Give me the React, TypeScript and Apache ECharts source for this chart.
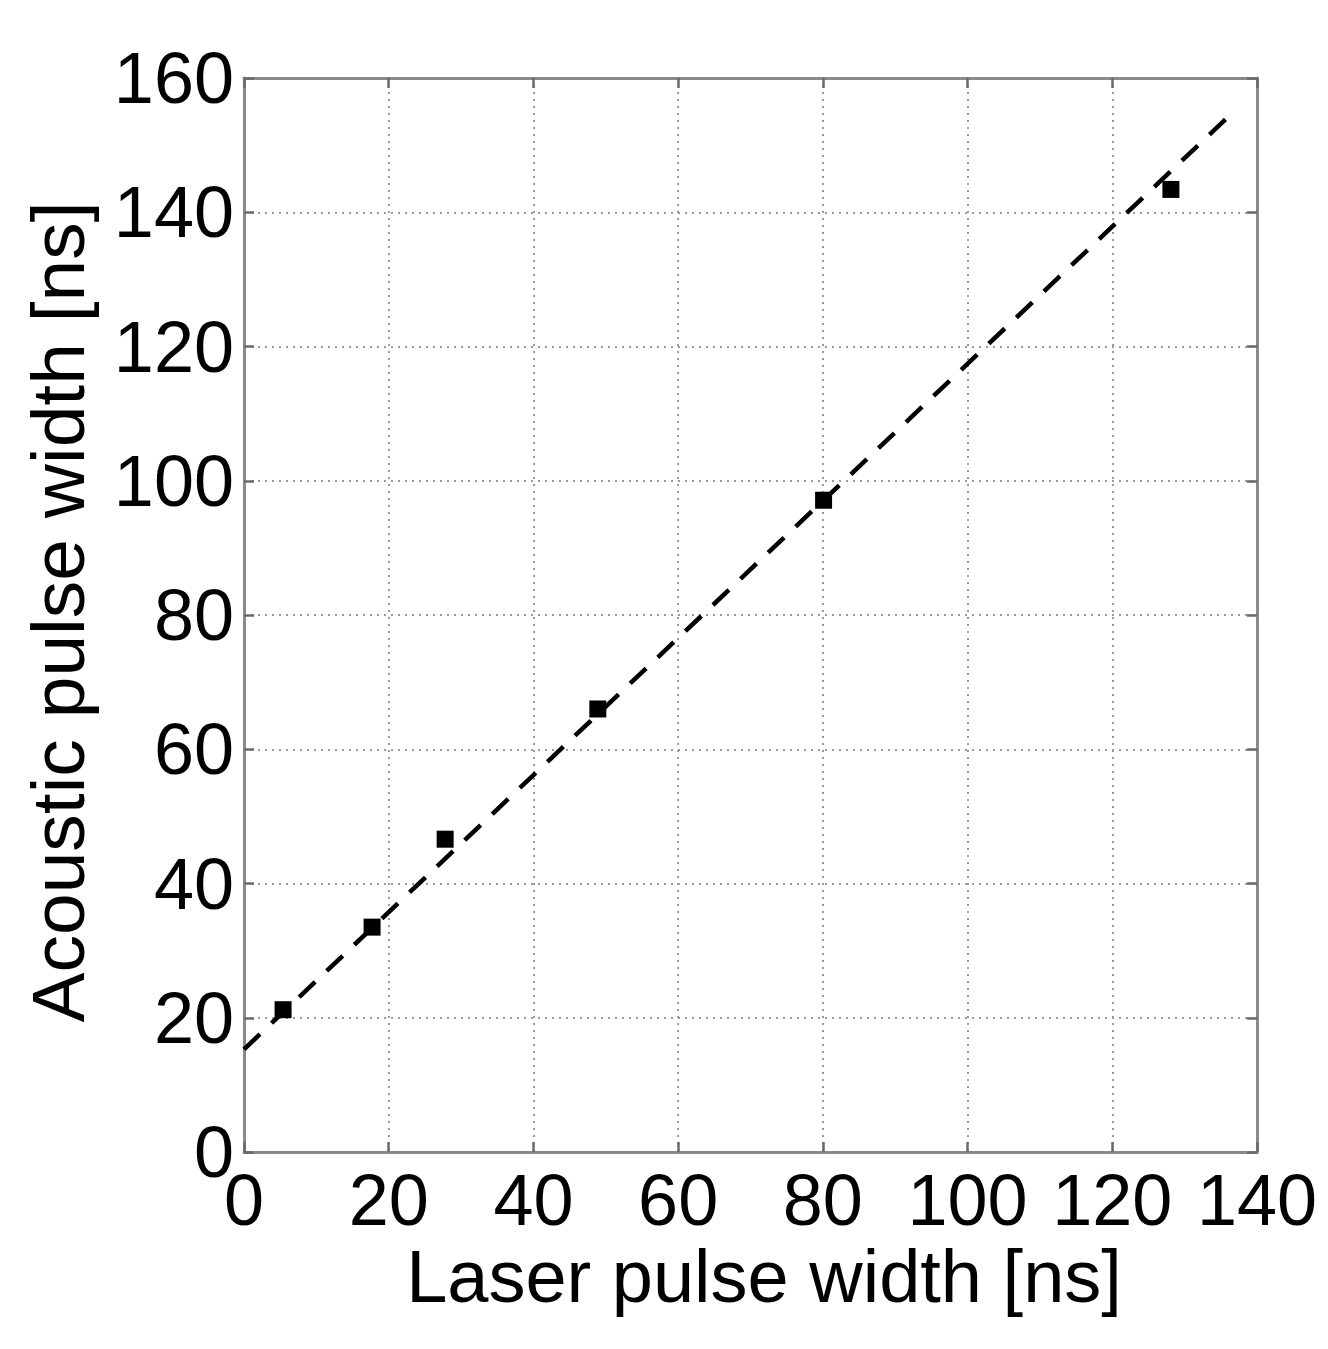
import React, { useEffect, useRef } from "react";
import * as echarts from "echarts";

const laserWidth = [5.4, 17.7, 27.8, 48.9, 80.1, 128.1];
const acousticWidth = [21.2, 33.5, 46.6, 66.0, 97.1, 143.4];
const fitX = [0, 136.1];
const fitY = [15.3, 154.3];
const xTitle = "Laser pulse width [ns]";
const yTitle = "Acoustic pulse width [ns]";

const FONT = "'Liberation Sans', Arial, Helvetica, sans-serif";

export default function App() {
  const ref = useRef<HTMLDivElement>(null);
  useEffect(() => {
    if (!ref.current) return;
    const chart = echarts.init(ref.current, null, { renderer: "svg" });
    const axisLine = { show: true, onZero: false, lineStyle: { color: "#8a8a8a", width: 3 } };
    const tick = { show: true, inside: true, length: 10, lineStyle: { color: "#6a6a6a", width: 2.5 } };
    const split = { show: true, lineStyle: { color: "#9a9a9a", width: 2, type: [2, 5] as any } };
    const label = { color: "#000", fontSize: 72, fontFamily: FONT };
    chart.setOption({
      animation: false,
      backgroundColor: "#fff",
      grid: { left: 244, right: 71, top: 78, bottom: 197, containLabel: false },
      xAxis: [
        {
          type: "value", min: 0, max: 140, interval: 20, position: "bottom",
          axisLine, axisTick: tick, splitLine: split,
          axisLabel: { ...label, margin: 12 },
        },
        {
          type: "value", min: 0, max: 140, interval: 20, position: "top",
          axisLine, axisTick: tick, splitLine: { show: false }, axisLabel: { show: false },
        },
      ],
      yAxis: [
        {
          type: "value", min: 0, max: 160, interval: 20, position: "left",
          axisLine, axisTick: tick, splitLine: split,
          axisLabel: { ...label, margin: 10 },
        },
        {
          type: "value", min: 0, max: 160, interval: 20, position: "right",
          axisLine, axisTick: tick, splitLine: { show: false }, axisLabel: { show: false },
        },
      ],
      graphic: [
        {
          type: "text", x: 764, y: 1276,
          style: { text: xTitle, fill: "#000", font: `74px ${FONT}`, textAlign: "center", textVerticalAlign: "middle" },
        },
        {
          type: "text", x: 58, y: 612, rotation: Math.PI / 2,
          style: { text: yTitle, fill: "#000", font: `75px ${FONT}`, textAlign: "center", textVerticalAlign: "middle" },
        },
      ],
      series: [
        {
          type: "line",
          data: fitX.map((x, i) => [x, fitY[i]]),
          showSymbol: false,
          symbol: "none",
          lineStyle: { color: "#000", width: 4.5, type: [22, 16] as any },
          z: 3,
        },
        {
          type: "scatter",
          data: laserWidth.map((x, i) => [x, acousticWidth[i]]),
          symbol: "rect",
          symbolSize: 17,
          itemStyle: { color: "#000", opacity: 1 },
          z: 4,
        },
      ],
    });
    return () => chart.dispose();
  }, []);
  return <div ref={ref} style={{ position: "fixed", left: 0, top: 0, width: 1328, height: 1349 }} />;
}
